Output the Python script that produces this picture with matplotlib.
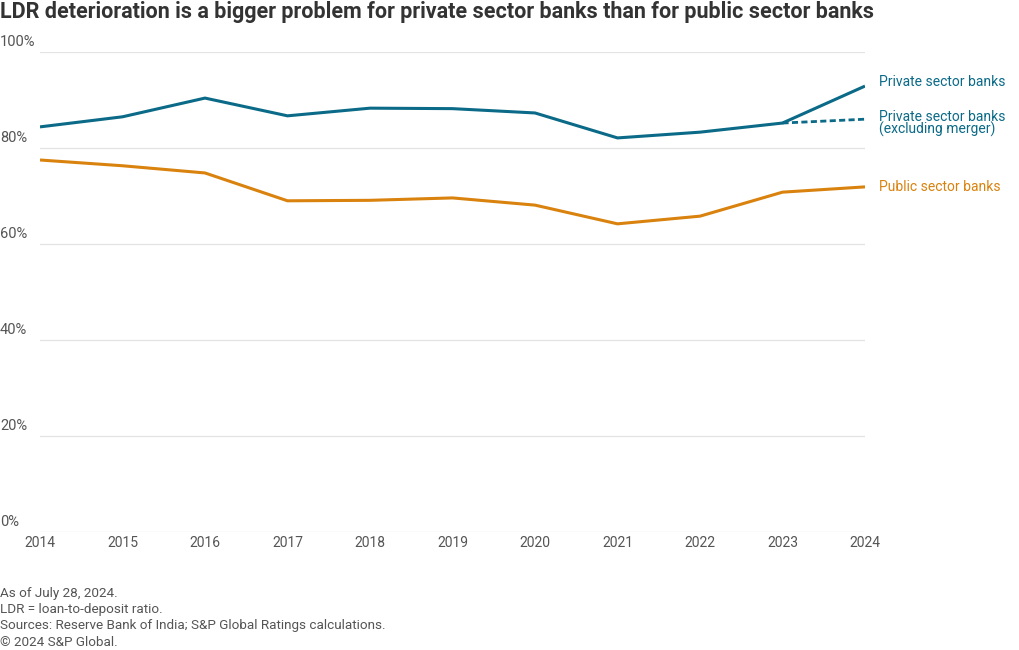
import matplotlib.pyplot as plt

years = [2014, 2015, 2016, 2017, 2018, 2019, 2020, 2021, 2022, 2023, 2024]
private = [84.4, 86.5, 90.4, 86.7, 88.3, 88.2, 87.3, 82.1, 83.3, 85.2, 92.9]
public = [77.5, 76.3, 74.8, 69.0, 69.1, 69.6, 68.1, 64.2, 65.8, 70.8, 71.9]
excl_years = [2023, 2024]
excl_merger = [85.2, 86.0]
yticks = [0, 20, 40, 60, 80, 100]

blue = '#0b6a87'
orange = '#d9820e'
grey = '#555555'

plt.rcParams['font.family'] = ['Roboto', 'DejaVu Sans']

fig = plt.figure(figsize=(10.2, 6.5), dpi=100)
ax = fig.add_axes([40 / 1020, 1 - 532 / 650, 825 / 1020, 480 / 650])

for y in yticks:
    ax.axhline(y, color='#e3e3e3', lw=0.9, zorder=0)
    ax.text(-40 / 825 * 10 + 2014, y + 0.6, f'{y}%', fontsize=10.5, color=grey,
            ha='left', va='bottom', clip_on=False)

ax.plot(years, public, color=orange, lw=2.2, solid_capstyle='butt')
ax.plot(excl_years, excl_merger, color=blue, lw=2.0, ls=(0, (2.2, 1.2)))
ax.plot(years, private, color=blue, lw=2.2, solid_capstyle='butt')

ax.set_xlim(2014, 2024)
ax.set_ylim(0, 100)
ax.set_yticks([])
ax.set_xticks(years)
ax.set_xticklabels([str(y) for y in years], fontsize=10, color=grey)
ax.tick_params(axis='x', length=0, pad=3)
for s in ax.spines.values():
    s.set_visible(False)

ax.text(2024.17, private[-1] + 0.8, 'Private sector banks', color=blue, fontsize=10,
        va='center', ha='left', clip_on=False)
ax.text(2024.17, excl_merger[-1] - 0.9, 'Private sector banks\n(excluding merger)', color=blue,
        fontsize=10, va='center', ha='left', linespacing=0.85, clip_on=False)
ax.text(2024.17, public[-1], 'Public sector banks', color=orange, fontsize=10,
        va='center', ha='left', clip_on=False)

fig.text(0.0, 1 - 12 / 650, 'LDR deterioration is a bigger problem for private sector banks than for public sector banks',
         fontsize=15.5, fontweight='bold', color='#333333', ha='left', va='center')

notes = ['As of July 28, 2024.', 'LDR = loan-to-deposit ratio.',
         'Sources: Reserve Bank of India; S&P Global Ratings calculations.', '\u00a9 2024 S&P Global.']
for i, n in enumerate(notes):
    fig.text(0.0, 1 - (594 + i * 16) / 650, n, fontsize=9.7, color=grey, ha='left', va='center')

fig.savefig('out.png', dpi=100)
